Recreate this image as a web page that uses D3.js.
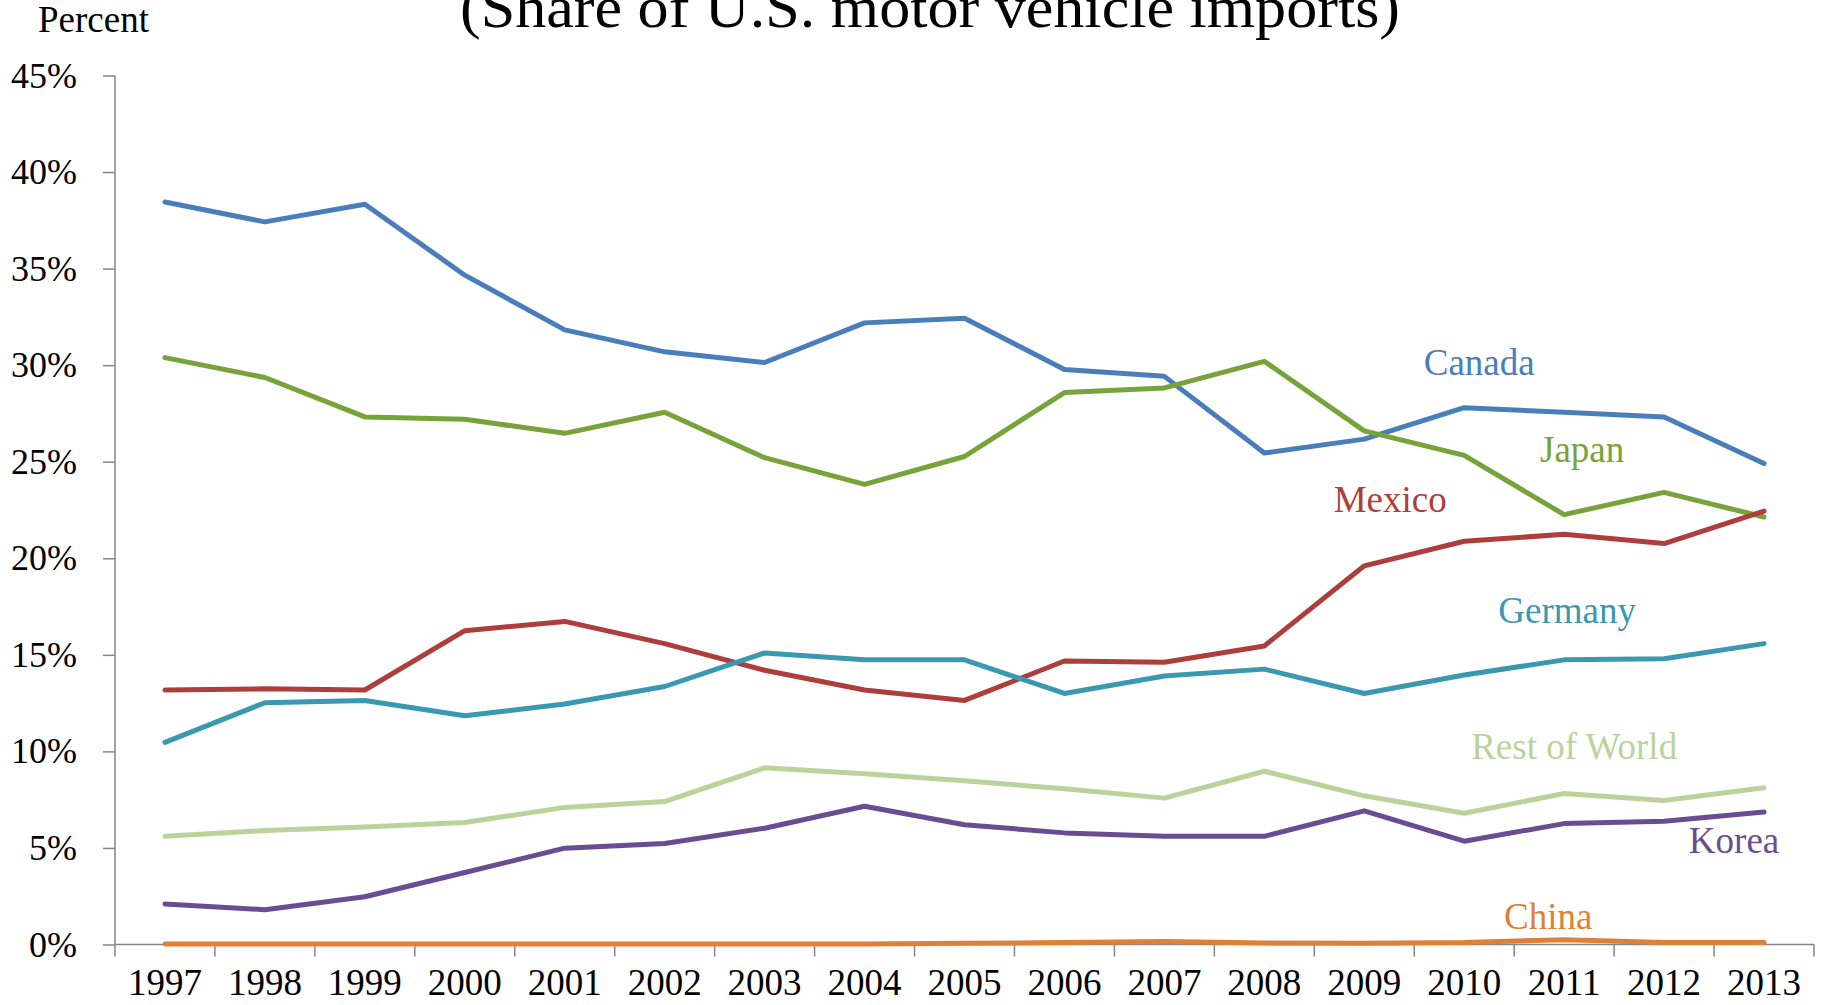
<!DOCTYPE html>
<html lang="en">
<head>
  <meta charset="UTF-8">
  <title>Share of U.S. motor vehicle imports</title>
  <script src="https://d3js.org/d3.v7.min.js"></script>
  <style>
    body { margin: 0; background: #fff; }
    svg { display: block; font-family: "Liberation Serif", "Times New Roman", serif; }
    .axis path, .axis line { stroke: #868686; stroke-width: 1.5; }
    .axis text { fill: #000; font-family: "Liberation Serif", serif; }
    .series { fill: none; stroke-width: 5; stroke-linejoin: round; stroke-linecap: round; }
  </style>
</head>
<body>
<script>
const years = [1997, 1998, 1999, 2000, 2001, 2002, 2003, 2004, 2005, 2006, 2007, 2008, 2009, 2010, 2011, 2012, 2013];

const canada  = [38.45, 37.42, 38.33, 34.66, 31.83, 30.69, 30.14, 32.19, 32.43, 29.78, 29.42, 25.45, 26.17, 27.8, 27.56, 27.32, 24.91];
const japan   = [30.39, 29.36, 27.32, 27.2, 26.47, 27.56, 25.21, 23.83, 25.27, 28.58, 28.82, 30.2, 26.6, 25.33, 22.26, 23.41, 22.14];
const mexico  = [13.18, 13.24, 13.18, 16.25, 16.73, 15.58, 14.2, 13.18, 12.64, 14.68, 14.62, 15.46, 19.61, 20.88, 21.24, 20.76, 22.44];
const germany = [10.47, 12.52, 12.64, 11.85, 12.45, 13.36, 15.1, 14.74, 14.74, 13.0, 13.9, 14.26, 13.0, 13.96, 14.74, 14.8, 15.58];
const restOfWorld = [5.6, 5.9, 6.08, 6.32, 7.1, 7.4, 9.15, 8.84, 8.48, 8.06, 7.58, 8.97, 7.7, 6.8, 7.82, 7.46, 8.12];
const korea   = [2.1, 1.8, 2.47, 3.73, 4.99, 5.23, 6.02, 7.16, 6.2, 5.78, 5.6, 5.6, 6.92, 5.35, 6.26, 6.38, 6.86];
const china   = [0.02, 0.02, 0.02, 0.02, 0.02, 0.02, 0.02, 0.03, 0.06, 0.1, 0.15, 0.08, 0.07, 0.1, 0.25, 0.1, 0.1];

const seriesNames = ["Canada", "Japan", "Mexico", "Germany", "Rest of World", "Korea", "China"];
const seriesValues = [canada, japan, mexico, germany, restOfWorld, korea, china];
const seriesColors = ["#4A7EBB", "#78A23A", "#AE3E3B", "#3A98B0", "#BBD39A", "#6A4C93", "#E07F36"];
// label anchor in data space: [year, percent]
const labelPos = [[2010.15, 29.5], [2011.18, 25.0], [2009.26, 22.4], [2011.03, 16.66], [2011.1, 9.62], [2012.7, 4.75], [2010.84, 0.82]];

const yTicks = [0, 5, 10, 15, 20, 25, 30, 35, 40, 45];

const W = 1822, H = 1005;
const mLeft = 115, mRight = 1814, mTop = 75.5, mBottom = 944.5;

const svg = d3.select("body").append("svg").attr("width", W).attr("height", H);

const x = d3.scaleBand().domain(years).range([mLeft, mRight]).padding(0);
const bw = x.bandwidth();
const xc = yr => x(yr) + bw / 2;
// continuous version for label positions
const xl = d3.scaleLinear().domain([years[0], years[years.length - 1]]).range([xc(years[0]), xc(years[years.length - 1])]);
const y = d3.scaleLinear().domain([0, 45]).range([mBottom, mTop]);

// title (partially cut off at the top in the source)
svg.append("text")
  .attr("x", 930).attr("y", 27)
  .attr("text-anchor", "middle")
  .attr("font-size", 60)
  .attr("textLength", 940)
  .attr("lengthAdjust", "spacingAndGlyphs")
  .text("(Share of U.S. motor vehicle imports)");

svg.append("text")
  .attr("x", 38).attr("y", 32)
  .attr("font-size", 37)
  .text("Percent");

// y axis
const yAxis = svg.append("g")
  .attr("class", "axis")
  .attr("transform", `translate(${mLeft},0)`)
  .call(d3.axisLeft(y).tickValues(yTicks).tickSize(12).tickPadding(26).tickFormat(d => d + "%"));
yAxis.select(".domain").attr("d", `M0,${mBottom}V${mTop}`);
yAxis.selectAll("text").attr("font-size", 36);

// x axis: labels centered on categories, ticks on boundaries
const xAxis = svg.append("g")
  .attr("class", "axis")
  .attr("transform", `translate(0,${mBottom})`)
  .call(d3.axisBottom(x).tickSize(0).tickPadding(24));
xAxis.select(".domain").attr("d", `M${mLeft},0H${mRight}`);
xAxis.selectAll("text").attr("font-size", 37);
xAxis.selectAll("line.bound")
  .data(years.concat(["end"]))
  .join("line")
  .attr("class", "bound")
  .attr("x1", d => d === "end" ? x.range()[1] : x(d))
  .attr("x2", d => d === "end" ? x.range()[1] : x(d))
  .attr("y1", 0).attr("y2", 12);

// lines
const line = d3.line().x((d, i) => xc(years[i])).y(d => y(d));
svg.append("g")
  .selectAll("path")
  .data(seriesValues)
  .join("path")
  .attr("class", "series")
  .attr("stroke", (d, i) => seriesColors[i])
  .attr("d", line);

// series labels
svg.append("g")
  .selectAll("text")
  .data(seriesNames)
  .join("text")
  .attr("x", (d, i) => xl(labelPos[i][0]))
  .attr("y", (d, i) => y(labelPos[i][1]))
  .attr("text-anchor", "middle")
  .attr("font-size", 37)
  .attr("fill", (d, i) => seriesColors[i])
  .text(d => d);
</script>
</body>
</html>
